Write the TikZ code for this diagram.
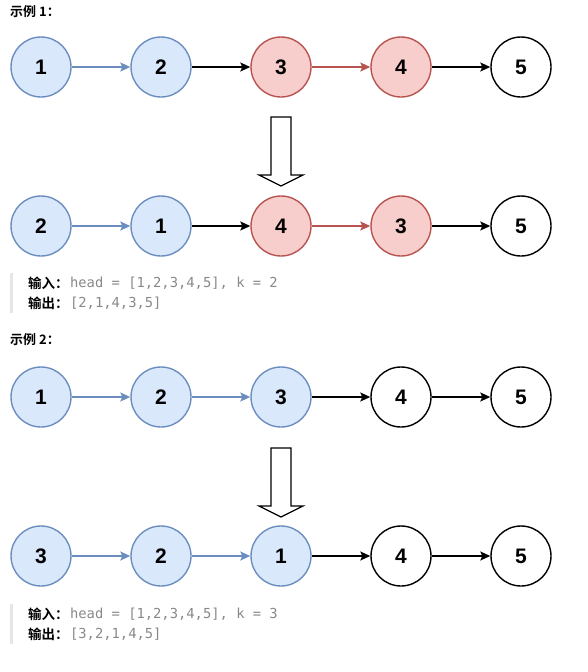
\documentclass[tikz,border=0pt]{standalone}
\usepackage{fontspec}
\setmainfont{Liberation Sans}
\newfontfamily\cjk{Noto Sans CJK SC}[BoldFont={* Bold}]
\newfontfamily\codefont{DejaVu Sans Mono}
\usetikzlibrary{arrows.meta}
\definecolor{bfill}{HTML}{DAE8FC}
\definecolor{bline}{HTML}{6C8EBF}
\definecolor{rfill}{HTML}{F8CECC}
\definecolor{rline}{HTML}{B85450}
\definecolor{codegray}{HTML}{888888}
\definecolor{barcol}{HTML}{E6E6E6}
\tikzset{
  lnode/.style={circle, minimum size=60pt, inner sep=0pt, line width=1.4pt, font=\fontsize{21}{21}\selectfont\bfseries},
  bnode/.style={lnode, draw=bline, fill=bfill},
  rnode/.style={lnode, draw=rline, fill=rfill},
  wnode/.style={lnode, draw=black, fill=white},
  link/.style={line width=1.4pt, -{Stealth[length=10pt,width=9pt,inset=2pt]}},
  blink/.style={link, draw=bline, color=bline},
  rlink/.style={link, draw=rline, color=rline},
  klink/.style={link, draw=black},
  title/.style={anchor=west, inner sep=0pt, font=\cjk\fontsize{13}{13}\selectfont\bfseries},
  label/.style={anchor=west, inner sep=0pt, font=\cjk\fontsize{13.5}{13.5}\selectfont\bfseries},
  code/.style={anchor=west, inner sep=0pt, text=codegray, font=\codefont\fontsize{13.8}{13.8}\selectfont},
  bigarrow/.style={draw=black, fill=white, line width=1.2pt, line join=miter},
  quotebar/.style={fill=barcol, draw=none}
}
\begin{document}
\begin{tikzpicture}[x=1pt,y=-1pt]
\useasboundingbox (0,0) rectangle (587,672);
% Example 1
\node[title] (t1) at (10,12) {示例 1：};
\node[bnode] (a1) at (41,67) {1};
\node[bnode] (a2) at (161,67) {2};
\node[rnode] (a3) at (281,67) {3};
\node[rnode] (a4) at (401,67) {4};
\node[wnode] (a5) at (521,67) {5};
\draw[blink] (a1) -- (a2);
\draw[klink] (a2) -- (a3);
\draw[rlink] (a3) -- (a4);
\draw[klink] (a4) -- (a5);
\draw[bigarrow] (271,117) -- (291,117) -- (291,175) -- (303,175) -- (281,186) -- (259,175) -- (271,175) -- cycle;
\node[bnode] (b1) at (41,226) {2};
\node[bnode] (b2) at (161,226) {1};
\node[rnode] (b3) at (281,226) {4};
\node[rnode] (b4) at (401,226) {3};
\node[wnode] (b5) at (521,226) {5};
\draw[blink] (b1) -- (b2);
\draw[klink] (b2) -- (b3);
\draw[rlink] (b3) -- (b4);
\draw[klink] (b4) -- (b5);
\fill[quotebar] (10,273) rectangle (13,313);
\node[label] (in1) at (28,283) {输入：};
\node[code] (in1c) at ([xshift=1pt]in1.east) {head = [1,2,3,4,5], k = 2};
\node[label] (out1) at (28,303) {输出：};
\node[code] (out1c) at ([xshift=1pt]out1.east) {[2,1,4,3,5]};
% Example 2
\node[title] (t2) at (10,340) {示例 2：};
\node[bnode] (c1) at (41,397) {1};
\node[bnode] (c2) at (161,397) {2};
\node[bnode] (c3) at (281,397) {3};
\node[wnode] (c4) at (401,397) {4};
\node[wnode] (c5) at (521,397) {5};
\draw[blink] (c1) -- (c2);
\draw[blink] (c2) -- (c3);
\draw[klink] (c3) -- (c4);
\draw[klink] (c4) -- (c5);
\draw[bigarrow] (271,448) -- (291,448) -- (291,506) -- (303,506) -- (281,517) -- (259,506) -- (271,506) -- cycle;
\node[bnode] (d1) at (41,556) {3};
\node[bnode] (d2) at (161,556) {2};
\node[bnode] (d3) at (281,556) {1};
\node[wnode] (d4) at (401,556) {4};
\node[wnode] (d5) at (521,556) {5};
\draw[blink] (d1) -- (d2);
\draw[blink] (d2) -- (d3);
\draw[klink] (d3) -- (d4);
\draw[klink] (d4) -- (d5);
\fill[quotebar] (10,604) rectangle (13,644);
\node[label] (in2) at (28,614) {输入：};
\node[code] (in2c) at ([xshift=1pt]in2.east) {head = [1,2,3,4,5], k = 3};
\node[label] (out2) at (28,634) {输出：};
\node[code] (out2c) at ([xshift=1pt]out2.east) {[3,2,1,4,5]};
\end{tikzpicture}
\end{document}
